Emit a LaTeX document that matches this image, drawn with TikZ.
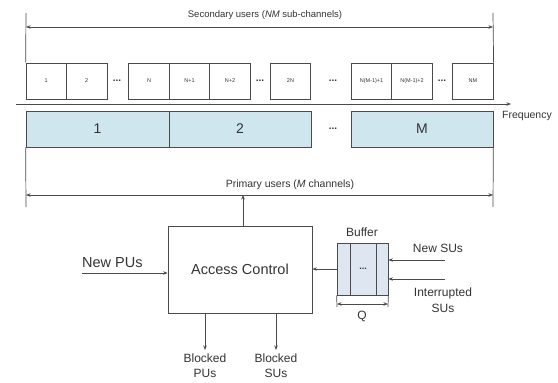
\documentclass[tikz,border=0pt]{standalone}
\usepackage{fontspec}
\setmainfont{Liberation Sans}
\usetikzlibrary{arrows.meta}
\definecolor{ln}{HTML}{4A4A4A}
\definecolor{tx}{HTML}{333333}
\definecolor{pu}{HTML}{CFE6EE}
\definecolor{bf}{HTML}{DDE6F1}
\tikzset{
 every node/.style={text=tx},
 line/.style={draw=ln, line width=0.7pt},
 arr/.style={line, -{Stealth[length=4.5pt,width=3.5pt]}},
 darr/.style={line, {Stealth[length=4.5pt,width=3.5pt]}-{Stealth[length=4.5pt,width=3.5pt]}},
 subbox/.style={draw=ln, line width=0.7pt, minimum width=40.5pt, minimum height=36pt, inner sep=0pt, font=\fontsize{5.5}{6}\selectfont},
 pubox/.style={draw=ln, fill=pu, line width=0.7pt, minimum height=36pt, inner sep=0pt, font=\fontsize{14}{16}\selectfont},
 dotsn/.style={font=\fontsize{10}{10}\selectfont\bfseries, inner sep=0pt},
 lbl/.style={inner sep=0pt, font=\fontsize{12}{14}\selectfont},
 big/.style={inner sep=0pt, font=\fontsize{14.5}{16}\selectfont},
}
\begin{document}
\begin{tikzpicture}[x=1pt,y=-1pt]
\useasboundingbox (0,0) rectangle (558,383);
% secondary sub-channels
\node[subbox] (s1) at (46.25,81) {1};
\node[subbox] (s2) at (86.75,81) {2};
\node[dotsn] (d1) at (117,81) {...};
\node[subbox] (sN) at (149,81) {N};
\node[subbox] (sN1) at (189.5,81) {N+1};
\node[subbox] (sN2) at (230,81) {N+2};
\node[dotsn] (d2) at (260,81) {...};
\node[subbox] (s2N) at (290.5,81) {2N};
\node[dotsn] (d3) at (333,81) {...};
\node[subbox] (sA) at (371.5,81) {N(M-1)+1};
\node[subbox] (sB) at (412,81) {N(M-1)+2};
\node[dotsn] (d4) at (442,81) {...};
\node[subbox] (sNM) at (473,81) {NM};
% secondary span
\coordinate (tl) at (26,13);
\coordinate (tr) at (493,13);
\draw[line] (tl) -- (s1.north west);
\draw[line] (tr) -- (sNM.north east);
\coordinate (al) at (26,27);
\coordinate (ar) at (493,27);
\draw[darr] (al) -- (ar);
\node[inner sep=0pt, font=\fontsize{9.5}{11}\selectfont] (sul) at (265,15) {Secondary users (\textit{NM} sub-channels)};
% frequency axis
\coordinate (f0) at (16,104);
\coordinate (f1) at (511,104);
\draw[arr] (f0) -- (f1);
\node[inner sep=0pt, anchor=west, font=\fontsize{10.5}{12}\selectfont] (fq) at (502,116) {Frequency};
% primary channels
\node[pubox, minimum width=143pt] (p1) at (97.5,129) {1};
\node[pubox, minimum width=142pt] (p2) at (240,129) {2};
\node[dotsn] (d5) at (333,129) {...};
\node[pubox, minimum width=142pt] (pM) at (422,129) {M};
\coordinate (bl) at (26,207);
\coordinate (br) at (493,207);
\draw[line] (p1.south west) -- (bl);
\draw[line] (pM.south east) -- (br);
\coordinate (ql) at (26,195);
\coordinate (qr) at (493,195);
\draw[darr] (ql) -- (qr);
\node[inner sep=0pt, font=\fontsize{10.5}{12}\selectfont] (pul) at (290,185) {Primary users (\textit{M} channels)};
\coordinate (pa) at (243,195);
% access control
\node[draw=ln, line width=0.7pt, minimum width=144pt, minimum height=87pt, inner sep=0pt, font=\fontsize{14.5}{16}\selectfont] (ac) at (240,269.5) {Access Control};
\draw[arr] (ac.north -| pa) -- (pa);
\node[big, anchor=west] (npu) at (82,263) {New PUs};
\coordinate (npu0) at (82,273);
\draw[arr] (npu0) -- (npu0 -| ac.west);
\coordinate (bp) at (205,350);
\coordinate (bs) at (276,350);
\draw[arr] (ac.south -| bp) -- (bp);
\draw[arr] (ac.south -| bs) -- (bs);
\node[lbl, align=center, font=\fontsize{12}{15}\selectfont, anchor=north] (bpt) at (205,354) {Blocked\\PUs};
\node[lbl, align=center, font=\fontsize{12}{15}\selectfont, anchor=north] (bst) at (276,354) {Blocked\\SUs};
% buffer
\node[draw=ln, fill=bf, line width=0.7pt, minimum width=51pt, minimum height=52pt, inner sep=0pt] (buf) at (362.5,269) {};
\draw[line] (350,243) -- (350,295);
\draw[line] (376,243) -- (376,295);
\node[dotsn, font=\fontsize{9}{9}\selectfont\bfseries] (d6) at (363,269) {...};
\node[lbl] (buft) at (362,232) {Buffer};
\draw[arr] (buf.west) -- (buf.west -| ac.east);
\coordinate (e1) at (337,307);
\coordinate (e2) at (388,307);
\draw[line] (buf.south west) -- (e1);
\draw[line] (buf.south east) -- (e2);
\coordinate (q1) at (337,304);
\coordinate (q2) at (388,304);
\draw[darr] (q1) -- (q2);
\node[lbl] (qt) at (362,316) {Q};
\coordinate (ns) at (445,260);
\coordinate (is) at (445,279);
\draw[arr] (ns) -- (ns -| buf.east);
\draw[arr] (is) -- (is -| buf.east);
\node[lbl] (nst) at (438,248) {New SUs};
\node[lbl, align=center, font=\fontsize{12}{16}\selectfont] (ist) at (443,300) {Interrupted\\SUs};
\end{tikzpicture}
\end{document}
